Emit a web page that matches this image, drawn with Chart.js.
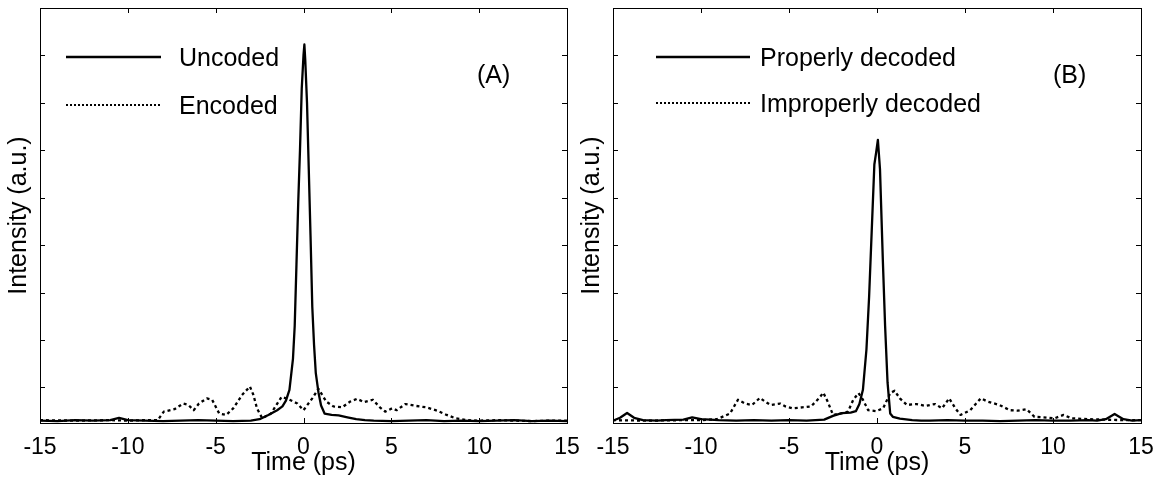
<!DOCTYPE html>
<html>
<head>
<meta charset="utf-8">
<script src="https://cdn.jsdelivr.net/npm/chart.js@4.4.0/dist/chart.umd.min.js"></script>
<style>
  html, body { margin: 0; padding: 0; background: #fff; }
  #wrap { position: relative; width: 1167px; height: 484px; }
  #wrap canvas { position: absolute; left: 0; top: 0; }
</style>
</head>
<body>
<div id="wrap">
  <canvas id="chartA" width="1167" height="484"></canvas>
  <canvas id="chartB" width="1167" height="484"></canvas>
</div>
<script>
// Axis ticks (intensity ticks are unlabeled, a.u.)
const timeTicks = [-15, -10, -5, 0, 5, 10, 15];
const intensityTicks = [1, 2, 3, 4, 5, 6, 7, 8];

// Panel A - uncoded pulse
const uncodedTime = [-15, -14, -13, -12, -11, -10.5, -10, -9, -8, -7, -6, -5, -4, -3, -2.5, -2, -1.5, -1.2, -1.0, -0.8,
  -0.6, -0.5, -0.4, -0.3, -0.2, -0.1, 0, 0.05, 0.1, 0.2, 0.3, 0.4, 0.5, 0.6, 0.7, 0.85, 1.0, 1.2, 1.6, 2.0,
  2.5, 3.0, 3.5, 4, 5, 6, 7, 8, 9, 10, 11, 12, 13, 14, 15];
const uncoded = [0.30, 0.29, 0.31, 0.30, 0.31, 0.36, 0.31, 0.30, 0.29, 0.30, 0.31, 0.30, 0.29, 0.30, 0.33, 0.42, 0.52, 0.60, 0.72, 0.95,
  1.6, 2.3, 3.6, 4.9, 6.0, 7.3, 8.0, 8.23, 7.9, 7.0, 5.6, 4.2, 2.7, 1.9, 1.3, 0.9, 0.62, 0.45, 0.42, 0.41,
  0.37, 0.33, 0.31, 0.30, 0.29, 0.30, 0.31, 0.29, 0.30, 0.29, 0.30, 0.31, 0.29, 0.30, 0.29];

// Panel A - encoded pulse
const encodedTime = [-15, -13, -11, -10, -9, -8.3, -7.95, -7.35, -6.85, -6.55, -6.25, -5.95, -5.5, -5.2, -4.8, -4.4, -4.0, -3.5, -3.05, -2.85,
  -2.65, -2.35, -1.85, -1.25, -0.85, -0.35, 0.0, 0.5, 0.85, 1.3, 1.7, 2.2, 2.65, 3.05, 3.45, 3.95, 4.35, 4.65, 5.05, 5.3,
  5.8, 6.4, 7.0, 7.6, 8.15, 8.65, 9.35, 10, 11, 12, 13, 14, 15];
const encoded = [0.31, 0.30, 0.31, 0.30, 0.31, 0.31, 0.49, 0.54, 0.66, 0.63, 0.52, 0.66, 0.77, 0.74, 0.45, 0.42, 0.56, 0.84, 1.02, 0.84,
  0.56, 0.35, 0.45, 0.80, 0.75, 0.66, 0.52, 0.77, 0.97, 0.70, 0.60, 0.58, 0.70, 0.76, 0.69, 0.74, 0.58, 0.49, 0.56, 0.52,
  0.65, 0.61, 0.58, 0.51, 0.42, 0.35, 0.31, 0.30, 0.31, 0.30, 0.29, 0.30, 0.30];

// Panel B - properly decoded
const properTime = [-15, -14.6, -14.2, -13.8, -13.3, -12.5, -12, -11, -10.5, -10, -9, -8, -7, -6, -5, -4, -3, -2.5, -2, -1.5,
  -1.2, -1.0, -0.8, -0.6, -0.45, -0.3, -0.15, -0.05, 0.05, 0.17, 0.33, 0.46, 0.6, 0.75, 0.9, 1.3, 2, 2.5, 3, 4,
  5, 6, 7, 8, 9, 10, 11, 12, 12.5, 13, 13.5, 14, 14.5, 15];
const properlyDecoded = [0.30, 0.36, 0.46, 0.36, 0.31, 0.30, 0.31, 0.32, 0.37, 0.33, 0.31, 0.30, 0.31, 0.30, 0.31, 0.30, 0.32, 0.40, 0.46, 0.47,
  0.50, 0.65, 0.95, 1.8, 2.9, 4.3, 5.7, 5.95, 6.22, 5.6, 3.7, 2.3, 1.1, 0.45, 0.38, 0.34, 0.31, 0.30, 0.30, 0.31,
  0.30, 0.30, 0.29, 0.30, 0.31, 0.30, 0.30, 0.31, 0.30, 0.33, 0.44, 0.33, 0.30, 0.31];

// Panel B - improperly decoded
const improperTime = [-15, -13, -11, -10, -9.1, -8.35, -7.9, -7.5, -7.1, -6.65, -6.35, -6.05, -5.5, -5.2, -4.8, -4.25, -3.75, -3.3, -3.05, -2.8,
  -2.5, -2.05, -1.65, -1.35, -1.05, -0.8, -0.5, -0.05, 0.35, 0.75, 1.0, 1.3, 1.7, 2.25, 2.75, 3.3, 3.7, 4.1, 4.45, 4.75,
  5.3, 5.9, 6.3, 6.95, 7.55, 8.0, 8.5, 8.95, 9.45, 10.1, 10.6, 11.05, 12, 13, 14, 15];
const improperlyDecoded = [0.31, 0.30, 0.31, 0.31, 0.33, 0.45, 0.74, 0.66, 0.63, 0.78, 0.70, 0.63, 0.66, 0.60, 0.56, 0.58, 0.60, 0.77, 0.89, 0.70,
  0.42, 0.45, 0.49, 0.74, 0.88, 0.74, 0.52, 0.50, 0.56, 0.88, 0.93, 0.77, 0.63, 0.65, 0.61, 0.65, 0.56, 0.77, 0.56, 0.42,
  0.52, 0.77, 0.70, 0.63, 0.52, 0.51, 0.54, 0.38, 0.37, 0.35, 0.42, 0.35, 0.33, 0.32, 0.31, 0.31];

const FONT = "'Liberation Sans', Arial, sans-serif";

const points = (ts, vs) => ts.map((t, i) => ({ x: t, y: vs[i] }));

// Box frame, inward ticks on all sides, legend and panel tag
const panelDecor = {
  id: 'panelDecor',
  afterDatasetsDraw(chart, args, opts) {
    const { ctx, chartArea: a, scales: { x, y } } = chart;
    ctx.save();
    ctx.strokeStyle = '#000';
    ctx.lineWidth = 1;
    ctx.setLineDash([]);
    ctx.beginPath();
    x.ticks.forEach(t => {
      const px = Math.round(x.getPixelForValue(t.value)) + 0.5;
      ctx.moveTo(px, a.bottom); ctx.lineTo(px, a.bottom - 5);
      ctx.moveTo(px, a.top); ctx.lineTo(px, a.top + 5);
    });
    y.ticks.forEach(t => {
      const py = Math.round(y.getPixelForValue(t.value)) + 0.5;
      ctx.moveTo(a.left, py); ctx.lineTo(a.left + 5, py);
      ctx.moveTo(a.right, py); ctx.lineTo(a.right - 5, py);
    });
    ctx.stroke();
    ctx.strokeRect(Math.round(a.left) + 0.5, Math.round(a.top) + 0.5,
      Math.round(a.right - a.left), Math.round(a.bottom - a.top));

    // legend
    ctx.font = '25px ' + FONT;
    ctx.fillStyle = '#000';
    ctx.textBaseline = 'middle';
    chart.data.datasets.forEach((ds, i) => {
      const ly = opts.legendY + i * opts.legendGap;
      ctx.beginPath();
      ctx.lineWidth = ds.borderDash ? 2 : 2.5;
      ctx.setLineDash(ds.borderDash ? [2, 2] : []);
      ctx.moveTo(opts.lineX1, ly);
      ctx.lineTo(opts.lineX2, ly);
      ctx.stroke();
      ctx.fillText(ds.label, opts.textX, ly + 2);
    });
    ctx.fillText(opts.tag, opts.tagX, opts.tagY);
    ctx.restore();
  }
};

function makePanel(id, series, pad, yWidth, titlePad, decor) {
  return new Chart(document.getElementById(id), {
    type: 'line',
    data: {
      datasets: series.map(s => ({
        label: s.label,
        data: points(s.t, s.v),
        borderColor: '#000',
        borderWidth: 2.3,
        borderJoinStyle: 'round',
        borderDash: s.dashed ? [3, 3] : undefined,
        pointRadius: 0,
        tension: 0,
        fill: false,
      }))
    },
    options: {
      responsive: false,
      animation: false,
      events: [],
      layout: { padding: pad },
      plugins: {
        legend: { display: false },
        tooltip: { enabled: false },
        panelDecor: decor,
      },
      scales: {
        x: {
          type: 'linear',
          min: -15,
          max: 15,
          afterBuildTicks: s => { s.ticks = timeTicks.map(v => ({ value: v })); },
          afterFit: s => { s.height = 61; },
          grid: { display: false },
          border: { display: false },
          ticks: {
            color: '#000',
            padding: 3,
            maxRotation: 0,
            autoSkip: false,
            font: { family: FONT, size: 23 },
          },
          title: {
            display: true,
            text: 'Time (ps)',
            color: '#000',
            font: { family: FONT, size: 25 },
            padding: { top: 0, bottom: 6 },
          }
        },
        y: {
          type: 'linear',
          min: 0.25,
          max: 9,
          afterBuildTicks: s => { s.ticks = intensityTicks.map(v => ({ value: v })); },
          afterFit: s => { s.width = yWidth; },
          grid: { display: false },
          border: { display: false },
          ticks: { display: false },
          title: {
            display: true,
            text: 'Intensity (a.u.)',
            color: '#000',
            font: { family: FONT, size: 25 },
            padding: { top: titlePad, bottom: 0 },
          }
        }
      }
    },
    plugins: [panelDecor]
  });
}

makePanel('chartA', [
  { label: 'Uncoded', t: uncodedTime, v: uncoded },
  { label: 'Encoded', t: encodedTime, v: encoded, dashed: true },
], { left: 0, top: 8, right: 600, bottom: 0 }, 40, 4,
  { legendY: 57, legendGap: 48, lineX1: 66, lineX2: 161, textX: 179, tag: '(A)', tagX: 477, tagY: 76 });

makePanel('chartB', [
  { label: 'Properly decoded', t: properTime, v: properlyDecoded },
  { label: 'Improperly decoded', t: improperTime, v: improperlyDecoded, dashed: true },
], { left: 560, top: 8, right: 26, bottom: 0 }, 53, 17,
  { legendY: 57, legendGap: 46, lineX1: 656, lineX2: 750, textX: 760, tag: '(B)', tagX: 1053, tagY: 76 });
</script>
</body>
</html>
